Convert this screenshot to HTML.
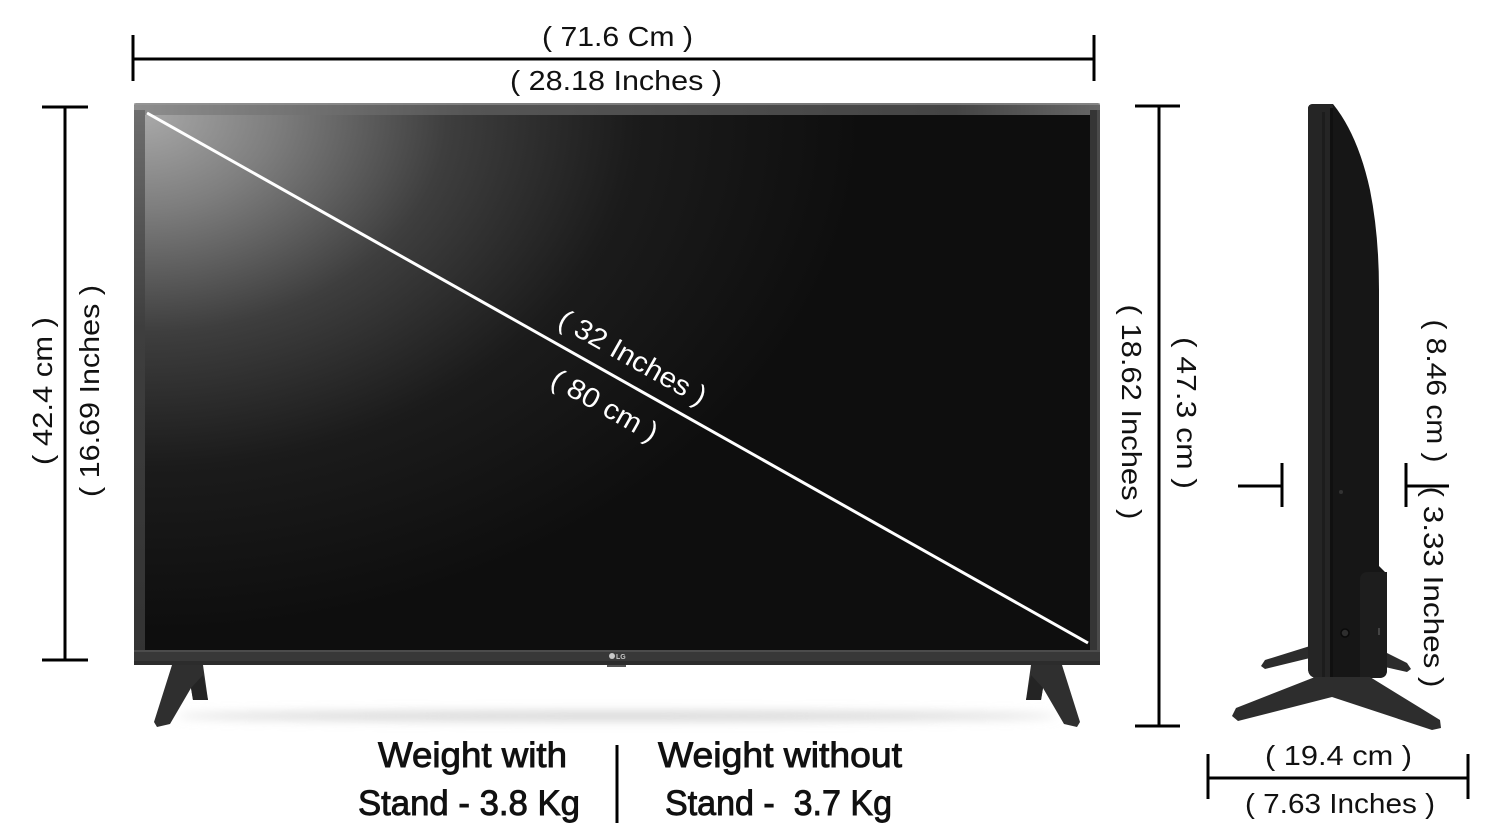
<!DOCTYPE html>
<html>
<head>
<meta charset="utf-8">
<style>
  html,body{margin:0;padding:0;background:#fff;}
  svg{display:block;}
  text{font-family:"Liberation Sans",sans-serif;fill:#111;}
</style>
</head>
<body>
<svg width="1500" height="838" viewBox="0 0 1500 838" xmlns="http://www.w3.org/2000/svg">
  <defs>
    <radialGradient id="scr" gradientUnits="userSpaceOnUse" cx="145" cy="115" r="720" gradientTransform="translate(145,115) scale(1,0.72) translate(-145,-115)">
      <stop offset="0" stop-color="#a8a8a8"/>
      <stop offset="0.18" stop-color="#7e7e7e"/>
      <stop offset="0.42" stop-color="#3e3e3e"/>
      <stop offset="0.68" stop-color="#1b1b1b"/>
      <stop offset="1" stop-color="#0e0e0e"/>
    </radialGradient>
    <linearGradient id="topbez" x1="0" y1="0" x2="1" y2="0">
      <stop offset="0" stop-color="#8e8e8e"/>
      <stop offset="0.35" stop-color="#555"/>
      <stop offset="0.85" stop-color="#444"/>
      <stop offset="1" stop-color="#666"/>
    </linearGradient>
    <linearGradient id="leftbez" x1="0" y1="0" x2="0" y2="1">
      <stop offset="0" stop-color="#6e6e6e"/>
      <stop offset="0.4" stop-color="#3e3e3e"/>
      <stop offset="1" stop-color="#333"/>
    </linearGradient>
    <filter id="blur" x="-10%" y="-200%" width="120%" height="500%">
      <feGaussianBlur stdDeviation="5"/>
    </filter>
  </defs>

  <!-- Top dimension -->
  <line x1="133" y1="59" x2="1094" y2="59" stroke="#000" stroke-width="3"/>
  <line x1="133" y1="35" x2="133" y2="81" stroke="#000" stroke-width="3"/>
  <line x1="1094" y1="35" x2="1094" y2="81" stroke="#000" stroke-width="3"/>
  <text x="542" y="46" font-size="28" textLength="151" lengthAdjust="spacingAndGlyphs">( 71.6 Cm )</text>
  <text x="510" y="90" font-size="28" textLength="212" lengthAdjust="spacingAndGlyphs">( 28.18 Inches )</text>

  <!-- Left dimension -->
  <line x1="65" y1="107" x2="65" y2="660" stroke="#000" stroke-width="3"/>
  <line x1="42" y1="107" x2="88" y2="107" stroke="#000" stroke-width="3"/>
  <line x1="42" y1="660" x2="88" y2="660" stroke="#000" stroke-width="3"/>
  <text transform="translate(42,391) rotate(-90)" x="0" y="10" font-size="28" text-anchor="middle" textLength="148" lengthAdjust="spacingAndGlyphs">( 42.4 cm )</text>
  <text transform="translate(89,391) rotate(-90)" x="0" y="10" font-size="28" text-anchor="middle" textLength="212" lengthAdjust="spacingAndGlyphs">( 16.69 Inches )</text>

  <!-- shadow under TV -->
  <ellipse cx="617" cy="716" rx="440" ry="5" fill="#d6d6d6" filter="url(#blur)"/>

  <!-- Front TV frame -->
  <rect x="134" y="103" width="966" height="562" rx="3" fill="#3a3a3a"/>
  <rect x="134" y="103" width="966" height="12" rx="3" fill="url(#topbez)"/>
  <rect x="134" y="103" width="966" height="2" fill="#9a9a9a" opacity="0.6"/>
  <rect x="134" y="110" width="11" height="545" fill="url(#leftbez)"/>
  <rect x="1090" y="110" width="10" height="545" fill="#353535"/>
  <rect x="1097" y="110" width="3" height="545" fill="#4a4a4a"/>
  <rect x="134" y="650" width="966" height="15" fill="#383838"/>
  <rect x="134" y="650" width="966" height="2" fill="#4c4c4c"/>
  <rect x="134" y="661" width="966" height="4" fill="#2c2c2c"/>
  <!-- screen -->
  <rect x="145" y="115" width="945" height="535" fill="url(#scr)"/>
  <!-- diagonal -->
  <line x1="147" y1="113" x2="1088" y2="643" stroke="#fff" stroke-width="3"/>
  <text transform="translate(633,357) rotate(29.4)" x="0" y="10" font-size="28" style="fill:#fff" text-anchor="middle" textLength="165" lengthAdjust="spacingAndGlyphs">( 32 Inches )</text>
  <text transform="translate(605,405) rotate(29.4)" x="0" y="10" font-size="28" style="fill:#fff" text-anchor="middle" textLength="118" lengthAdjust="spacingAndGlyphs">( 80 cm )</text>
  <!-- LG logo -->
  <circle cx="612" cy="656" r="3" fill="#c8c8c8"/>
  <text x="616" y="659" font-size="7" style="fill:#c8c8c8" font-weight="bold">LG</text>
  <rect x="607" y="665" width="19" height="2" fill="#555"/>

  <!-- front stand feet -->
  <g fill="#2f2f2f">
    <polygon points="172,665 203,665 208,700 193,700 191,688 170,724 157,727 154,722"/>
    <g transform="translate(1234,0) scale(-1,1)">
      <polygon points="172,665 203,665 208,700 193,700 191,688 170,724 157,727 154,722"/>
    </g>
  </g>
  <polygon points="191,688 193,700 208,700 203,675" fill="#242424"/>
  <polygon points="1043,688 1041,700 1026,700 1031,675" fill="#242424"/>

  <!-- Right dimension -->
  <line x1="1159" y1="106" x2="1159" y2="726" stroke="#000" stroke-width="3"/>
  <line x1="1135" y1="106" x2="1180" y2="106" stroke="#000" stroke-width="3"/>
  <line x1="1135" y1="726" x2="1180" y2="726" stroke="#000" stroke-width="3"/>
  <text transform="translate(1132,412) rotate(90)" x="0" y="10" font-size="28" text-anchor="middle" textLength="215" lengthAdjust="spacingAndGlyphs">( 18.62 Inches )</text>
  <text transform="translate(1187,413) rotate(90)" x="0" y="10" font-size="28" text-anchor="middle" textLength="152" lengthAdjust="spacingAndGlyphs">( 47.3 cm )</text>

  <!-- Side view -->
  <polygon points="1310,646 1265,660 1261,666 1265,669 1310,658" fill="#2c2c2c"/>
  <polygon points="1385,652 1407,663 1411,669 1407,672 1385,667" fill="#2c2c2c"/>
  <path d="M1308,109 Q1308,104 1313,104 L1333,104 Q1358,135 1370,190 Q1379,235 1379,290 L1379,566 L1387,574 L1387,670 Q1387,678 1379,678 L1318,678 Q1308,678 1308,668 Z" fill="#161616"/>
  <path d="M1308,109 Q1308,104 1313,104 L1333,104 L1333,678 L1318,678 Q1308,678 1308,668 Z" fill="#252525"/>
  <rect x="1322" y="112" width="3" height="566" fill="#1c1c1c"/>
  <rect x="1330" y="108" width="3" height="570" fill="#101010"/>
  <path d="M1360,580 Q1360,572 1368,572 L1387,572 L1387,670 Q1387,678 1379,678 L1360,678 Z" fill="#1d1d1d"/>
  <circle cx="1341" cy="492" r="2" fill="#333"/>
  <circle cx="1345" cy="633" r="4" fill="#2e2e2e" stroke="#0a0a0a" stroke-width="1.5"/>
  <rect x="1378" y="628" width="2" height="7" fill="#444"/>
  <polygon points="1315,677 1236,708 1232,716 1238,721 1332,697 1432,730 1441,728 1440,720 1370,677" fill="#2d2d2d"/>

  <!-- small marks -->
  <line x1="1238" y1="486" x2="1282" y2="486" stroke="#000" stroke-width="3"/>
  <line x1="1282" y1="463" x2="1282" y2="507" stroke="#000" stroke-width="3"/>
  <line x1="1406" y1="463" x2="1406" y2="507" stroke="#000" stroke-width="3"/>
  <line x1="1406" y1="486" x2="1449" y2="486" stroke="#000" stroke-width="3"/>
  <text transform="translate(1437,391) rotate(90)" x="0" y="10" font-size="28" text-anchor="middle" textLength="143" lengthAdjust="spacingAndGlyphs">( 8.46 cm )</text>
  <text transform="translate(1434,587) rotate(90)" x="0" y="10" font-size="28" text-anchor="middle" textLength="201" lengthAdjust="spacingAndGlyphs">( 3.33 Inches )</text>

  <!-- side bottom dimension -->
  <line x1="1208" y1="778" x2="1468" y2="778" stroke="#000" stroke-width="3"/>
  <line x1="1208" y1="754" x2="1208" y2="799" stroke="#000" stroke-width="3"/>
  <line x1="1468" y1="754" x2="1468" y2="799" stroke="#000" stroke-width="3"/>
  <text x="1265" y="765" font-size="28" textLength="147" lengthAdjust="spacingAndGlyphs">( 19.4 cm )</text>
  <text x="1245" y="813" font-size="28" textLength="190" lengthAdjust="spacingAndGlyphs">( 7.63 Inches )</text>

  <!-- Weight text -->
  <g stroke="#111" stroke-width="0.9">
  <text x="378" y="767" font-size="35" textLength="189" lengthAdjust="spacingAndGlyphs">Weight with</text>
  <text x="358" y="815" font-size="35" textLength="222" lengthAdjust="spacingAndGlyphs">Stand - 3.8 Kg</text>
  <text x="658" y="767" font-size="35" textLength="244" lengthAdjust="spacingAndGlyphs">Weight without</text>
  <text x="665" y="815" font-size="35" textLength="227" lengthAdjust="spacingAndGlyphs" xml:space="preserve">Stand -  3.7 Kg</text>
  </g>
  <line x1="617" y1="745" x2="617" y2="823" stroke="#000" stroke-width="3"/>
</svg>
</body>
</html>
